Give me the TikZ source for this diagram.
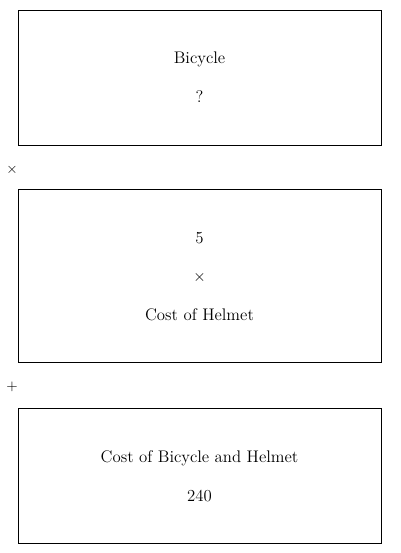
\documentclass[tikz,border=0pt]{standalone}
\usetikzlibrary{positioning}
\tikzset{
  qbox/.style={draw, line width=0.7pt, minimum width=272.25pt, align=center,
    font=\fontsize{12.6}{29}\selectfont, inner sep=0pt},
  opsign/.style={font=\fontsize{11}{14}\selectfont, inner sep=0pt}
}
\begin{document}
\begin{tikzpicture}[x=0.75pt, y=-0.75pt]
  \useasboundingbox (0,0) rectangle (400,553); % page size

  % The three boxes of the model
  \node[qbox, minimum height=101.25pt] (bike) at (199.5,77.5) {Bicycle\\?};
  \node[qbox, minimum height=129.75pt, below=33pt of bike] (helmet) {5\\$\times$\\Cost of Helmet};
  \node[qbox, minimum height=101.25pt, below=33.75pt of helmet] (total) {Cost of Bicycle and Helmet\\240};

  % Operators between the boxes
  \node[opsign] (times) at (12,170) {$\times$};
  \node[opsign] (plus) at (12,387) {$+$};
\end{tikzpicture}
\end{document}
